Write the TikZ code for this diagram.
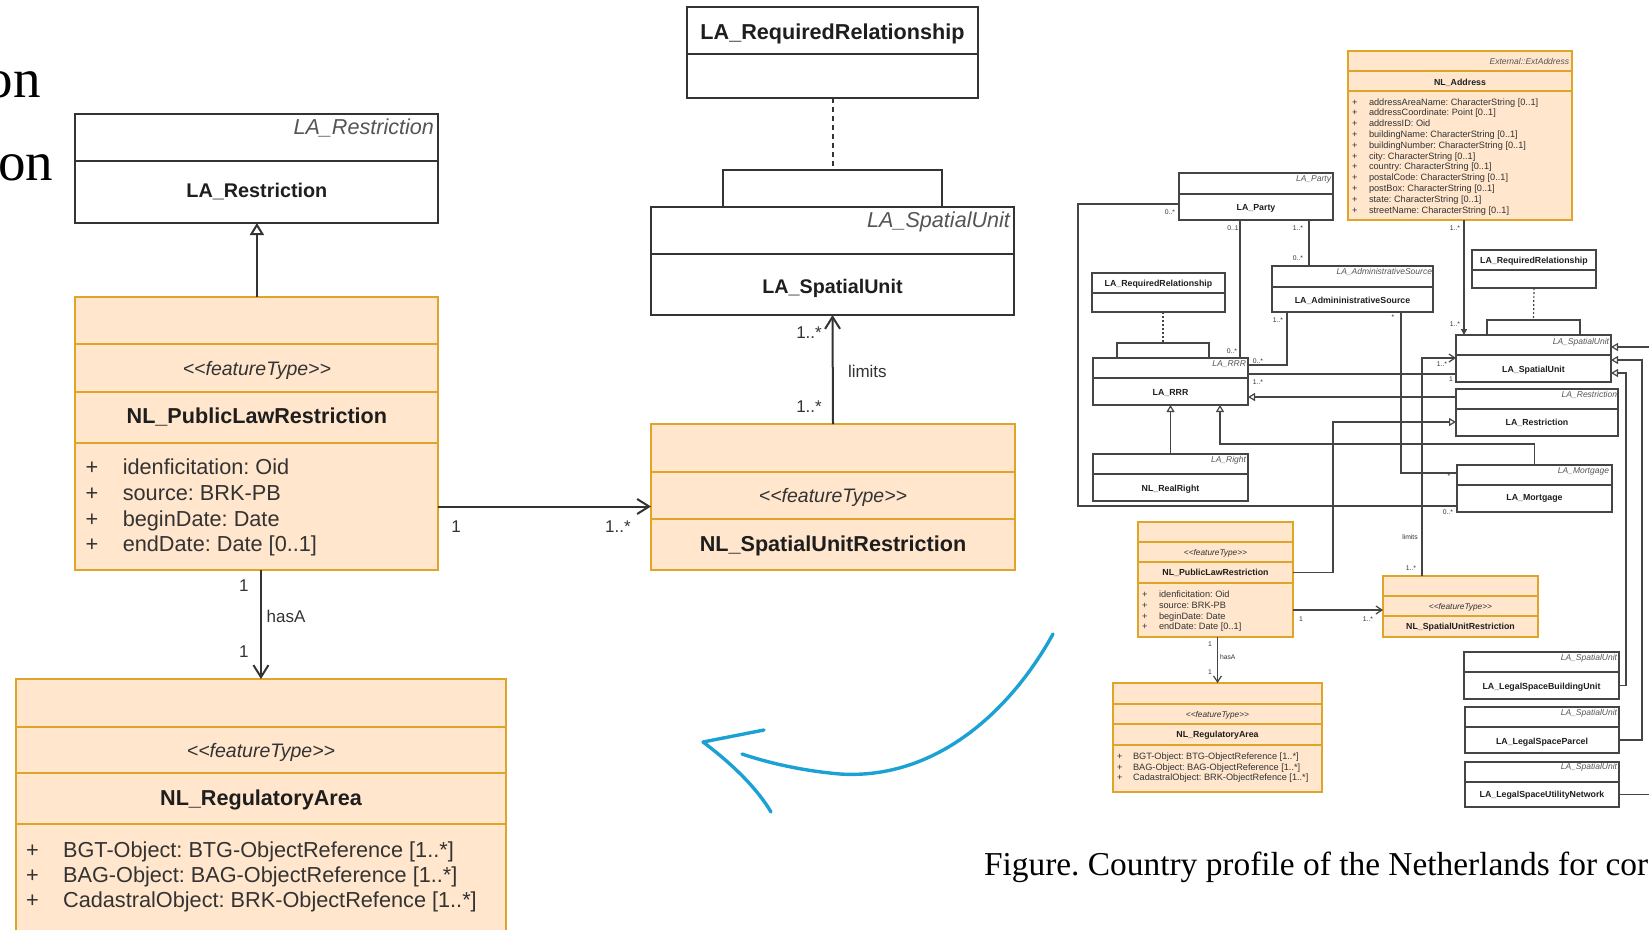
\documentclass[tikz,border=0pt]{standalone}
\usepackage{fontspec}
\setmainfont{Liberation Sans}
\newfontfamily\capserif{Liberation Serif}
\usetikzlibrary{arrows.meta,fit}
\definecolor{orfill}{HTML}{FFE6CC}
\definecolor{orline}{HTML}{DFA52B}
\definecolor{lncol}{HTML}{333333}
\definecolor{slcol}{HTML}{454545}
\definecolor{txcol}{HTML}{1E1E1E}
\definecolor{itcol}{HTML}{555555}
\definecolor{annot}{HTML}{1BA1D3}
\newcommand\pxf[1]{\fontsize{#1}{#1}\selectfont}
\newcommand\ftype{<\kern0pt<featureType>\kern0pt>}
\frenchspacing
\begin{document}
\begin{tikzpicture}[x=1pt,y=-1pt,
  bx/.style={draw=lncol, line width=2pt, fill=white, inner sep=0pt, outer sep=0pt},
  obx/.style={bx, draw=orline, fill=orfill},
  sbx/.style={bx, line width=1.2pt, draw=slcol},
  sobx/.style={obx, line width=1.2pt},
  t/.style={inner sep=0pt, outer sep=0pt, text=txcol},
  bigttl/.style={t, font=\bfseries\pxf{21.6}, anchor=base},
  bigit/.style={t, text=itcol, font=\itshape\pxf{21.6}, anchor=base east},
  bigst/.style={t, text=lncol, font=\itshape\pxf{19.5}, anchor=base},
  bigat/.style={t, text=lncol, font=\pxf{21.7}, anchor=base west},
  biglab/.style={t, text=lncol, font=\pxf{17}},
  sttl/.style={t, font=\bfseries\pxf{8.8}, anchor=base},
  sit/.style={t, text=itcol, font=\itshape\pxf{8.5}, anchor=base east},
  sst/.style={t, text=lncol, font=\itshape\pxf{8.3}, anchor=base},
  sat/.style={t, text=lncol, font=\pxf{9.2}, anchor=base west},
  slab/.style={t, text=lncol, font=\pxf{6.8}},
  conn/.style={draw=lncol, line width=2pt},
  sconn/.style={draw=slcol, line width=1.2pt},
  gen/.style={-{Triangle[open, length=12pt, width=14pt, fill=white]}},
  barb/.style={-{Straight Barb[length=12pt, width=15pt]}},
  sgen/.style={-{Triangle[open, length=7pt, width=8pt, fill=white]}},
  sbarb/.style={-{Straight Barb[length=6pt, width=8pt]}},
  sfill/.style={-{Triangle[length=6pt, width=6pt]}}
]
\path[use as bounding box] (0,0) rectangle (1649,929);
\clip (0,0) rectangle (1649,929);

% ---------------- enlarged classes (left) ----------------
\node[bx, fit={(75.4,114) (438.4,161)}] (restrA) {};
\node[bx, fit={(75.4,161) (438.4,223)}] (restrB) {};
\node[bigit] (restrAt) at (434,134) {LA\_Restriction};
\node[bigttl, font=\bfseries\pxf{19.8}] (restrBt) at (256.9,197) {LA\_Restriction};

\node[obx, fit={(75.4,297) (438.4,344)}] (plrA) {};
\node[obx, fit={(75.4,344) (438.4,392)}] (plrB) {};
\node[obx, fit={(75.4,392) (438.4,443)}] (plrC) {};
\node[obx, fit={(75.4,443) (438.4,570)}] (plrD) {};
\node[bigst] (plrBt) at (256.9,375) {\ftype};
\node[bigttl] (plrCt) at (256.9,423) {NL\_PublicLawRestriction};
\foreach \yy/\tx [count=\i] in {474/idenficitation: Oid, 500/source: BRK-PB, 526/beginDate: Date, 551/endDate: Date [0..1]} {
  \node[bigat] (plrP\i) at (85.6,\yy) {+};
  \node[bigat] (plrT\i) at (122.8,\yy) {\tx};
}

\node[obx, fit={(15.8,679) (506.1,727)}] (raA) {};
\node[obx, fit={(15.8,727) (506.1,773)}] (raB) {};
\node[obx, fit={(15.8,773) (506.1,824)}] (raC) {};
\node[obx, fit={(15.8,824) (506.1,950)}] (raD) {};
\node[bigst] (raBt) at (261,757) {\ftype};
\node[bigttl] (raCt) at (261,805) {NL\_RegulatoryArea};
\foreach \yy/\tx [count=\i] in {857/BGT-Object: BTG-ObjectReference [1..*], 882/BAG-Object: BAG-ObjectReference [1..*], 907/CadastralObject: BRK-ObjectRefence [1..*]} {
  \node[bigat] (raP\i) at (26,\yy) {+};
  \node[bigat] (raT\i) at (63.1,\yy) {\tx};
}

\node[bx, fit={(687,7) (978,54)}] (rrA) {};
\node[bx, fit={(687,54) (978,98)}] (rrB) {};
\node[bigttl] (rrAt) at (832.5,39) {LA\_RequiredRelationship};

\node[bx, fit={(723,170) (942,207)}] (suBr) {};
\node[bx, fit={(651,207) (1014,254)}] (suA) {};
\node[bx, fit={(651,254) (1014,315)}] (suB) {};
\node[bigit] (suAt) at (1010,227) {LA\_SpatialUnit};
\node[bigttl, font=\bfseries\pxf{19.7}] (suBt) at (832.5,293) {LA\_SpatialUnit};

\node[obx, fit={(651,424) (1015,472)}] (surA) {};
\node[obx, fit={(651,472) (1015,519)}] (surB) {};
\node[obx, fit={(651,519) (1015,570)}] (surC) {};
\node[bigst] (surBt) at (833,502) {\ftype};
\node[bigttl] (surCt) at (833,551) {NL\_SpatialUnitRestriction};

% connectors of the enlarged part
\draw[conn, gen] (plrA.north) -- (restrB.south);
\draw[conn, barb] (plrD.east) -- (plrD.east -| surB.west);
\draw[conn, barb] (surA.north) -- (suB.south);
\draw[conn, barb] (raA.north |- plrD.south) -- (raA.north);
\draw[conn, dash pattern=on 5pt off 4pt] (rrB.south) -- (suBr.north);

\node[biglab] (l1) at (809,333) {1..*};
\node[biglab, anchor=west] (l2) at (848,371) {limits};
\node[biglab] (l3) at (809,407) {1..*};
\node[biglab] (l4) at (456,527) {1};
\node[biglab] (l5) at (618,527) {1..*};
\node[biglab] (l6) at (243.8,586) {1};
\node[biglab, anchor=west] (l7) at (266.6,616) {hasA};
\node[biglab] (l8) at (243.8,652) {1};

% ---------------- whole profile (right) ----------------
\node[sobx, fit={(1348,51) (1572,71)}] (addrA) {};
\node[sobx, fit={(1348,71) (1572,91)}] (addrB) {};
\node[sobx, fit={(1348,91) (1572,220)}] (addrC) {};
\node[sit] (addrAt) at (1569,64) {External::ExtAddress};
\node[sttl] (addrBt) at (1460,85) {NL\_Address};
\foreach \tx [count=\i] in {addressAreaName: CharacterString [0..1], addressCoordinate: Point [0..1], addressID: Oid, buildingName: CharacterString [0..1], buildingNumber: CharacterString [0..1], city: CharacterString [0..1], country: CharacterString [0..1], postalCode: CharacterString [0..1], postBox: CharacterString [0..1], state: CharacterString [0..1], streetName: CharacterString [0..1]} {
  \node[sat] (adP\i) at (1352,{105+10.8*(\i-1)}) {+};
  \node[sat] (adT\i) at (1369,{105+10.8*(\i-1)}) {\tx};
}

\node[sbx, fit={(1179,173) (1333,194)}] (partyA) {};
\node[sbx, fit={(1179,194) (1333,220)}] (partyB) {};
\node[sit] (partyAt) at (1331,181) {LA\_Party};
\node[sttl] (partyBt) at (1256,210) {LA\_Party};

\node[sbx, fit={(1272,266) (1433,287)}] (asA) {};
\node[sbx, fit={(1272,287) (1433,312)}] (asB) {};
\node[sit] (asAt) at (1432,274) {LA\_AdministrativeSource};
\node[sttl] (asBt) at (1352.5,303) {LA\_AdmininistrativeSource};

\node[sbx, fit={(1092,273) (1225,293)}] (rr1A) {};
\node[sbx, fit={(1092,293) (1225,312)}] (rr1B) {};
\node[sttl] (rr1At) at (1158.5,286) {LA\_RequiredRelationship};
\node[sbx, fit={(1117,343) (1209,358)}] (br1) {};
\node[sbx, fit={(1093,358) (1248,378)}] (rrrA) {};
\node[sbx, fit={(1093,378) (1248,405)}] (rrrB) {};
\node[sit] (rrrAt) at (1246,366) {LA\_RRR};
\node[sttl] (rrrBt) at (1170.5,395) {LA\_RRR};

\node[sbx, fit={(1093,454) (1248,474)}] (realA) {};
\node[sbx, fit={(1093,474) (1248,501)}] (realB) {};
\node[sit] (realAt) at (1246,462) {LA\_Right};
\node[sttl] (realBt) at (1170.5,491) {NL\_RealRight};

\node[sbx, fit={(1472,250) (1596,270)}] (rr2A) {};
\node[sbx, fit={(1472,270) (1596,288)}] (rr2B) {};
\node[sttl] (rr2At) at (1534,263) {LA\_RequiredRelationship};
\node[sbx, fit={(1487,320) (1580,335)}] (br2) {};
\node[sbx, fit={(1456,335) (1611,355)}] (suRA) {};
\node[sbx, fit={(1456,355) (1611,382)}] (suRB) {};
\node[sit] (suRAt) at (1609,344) {LA\_SpatialUnit};
\node[sttl] (suRBt) at (1533.5,372) {LA\_SpatialUnit};

\node[sbx, fit={(1456,389) (1618,409)}] (reRA) {};
\node[sbx, fit={(1456,409) (1618,436)}] (reRB) {};
\node[sit] (reRAt) at (1617,397) {LA\_Restriction};
\node[sttl] (reRBt) at (1537,425) {LA\_Restriction};

\node[sbx, fit={(1457,465) (1612,485)}] (mortA) {};
\node[sbx, fit={(1457,485) (1612,512)}] (mortB) {};
\node[sit] (mortAt) at (1609,473) {LA\_Mortgage};
\node[sttl] (mortBt) at (1534.5,500) {LA\_Mortgage};

\node[sobx, fit={(1138,522) (1293,542)}] (plrSA) {};
\node[sobx, fit={(1138,542) (1293,562)}] (plrSB) {};
\node[sobx, fit={(1138,562) (1293,583)}] (plrSC) {};
\node[sobx, fit={(1138,583) (1293,637)}] (plrSD) {};
\node[sst] (plrSBt) at (1215.5,555) {\ftype};
\node[sttl] (plrSCt) at (1215.5,575) {NL\_PublicLawRestriction};
\foreach \yy/\tx [count=\i] in {597/idenficitation: Oid, 608/source: BRK-PB, 619/beginDate: Date, 629/endDate: Date [0..1]} {
  \node[sat] (plrSP\i) at (1142,\yy) {+};
  \node[sat] (plrST\i) at (1159,\yy) {\tx};
}

\node[sobx, fit={(1383,576) (1538,596)}] (surSA) {};
\node[sobx, fit={(1383,596) (1538,616)}] (surSB) {};
\node[sobx, fit={(1383,616) (1538,637)}] (surSC) {};
\node[sst] (surSBt) at (1460.5,609) {\ftype};
\node[sttl] (surSCt) at (1460.5,629) {NL\_SpatialUnitRestriction};

\node[sobx, fit={(1113,683) (1322,704)}] (raSA) {};
\node[sobx, fit={(1113,704) (1322,724)}] (raSB) {};
\node[sobx, fit={(1113,724) (1322,745)}] (raSC) {};
\node[sobx, fit={(1113,745) (1322,792)}] (raSD) {};
\node[sst] (raSBt) at (1217.5,717) {\ftype};
\node[sttl] (raSCt) at (1217.5,737) {NL\_RegulatoryArea};
\foreach \yy/\tx [count=\i] in {759/BGT-Object: BTG-ObjectReference [1..*], 770/BAG-Object: BAG-ObjectReference [1..*], 780/CadastralObject: BRK-ObjectRefence [1..*]} {
  \node[sat] (raSP\i) at (1117,\yy) {+};
  \node[sat] (raST\i) at (1133,\yy) {\tx};
}

\node[sbx, fit={(1464,652) (1619,672)}] (buA) {};
\node[sbx, fit={(1464,672) (1619,699)}] (buB) {};
\node[sit] (buAt) at (1617,660) {LA\_SpatialUnit};
\node[sttl] (buBt) at (1541.5,689) {LA\_LegalSpaceBuildingUnit};
\node[sbx, fit={(1465,707) (1619,727)}] (parA) {};
\node[sbx, fit={(1465,727) (1619,753)}] (parB) {};
\node[sit] (parAt) at (1617,715) {LA\_SpatialUnit};
\node[sttl] (parBt) at (1542,744) {LA\_LegalSpaceParcel};
\node[sbx, fit={(1465,762) (1619,782)}] (utA) {};
\node[sbx, fit={(1465,782) (1619,807)}] (utB) {};
\node[sit] (utAt) at (1617,769) {LA\_SpatialUnit};
\node[sttl] (utBt) at (1542,797) {LA\_LegalSpaceUtilityNetwork};

% bend points of the orthogonal connectors
\coordinate (kFrame) at (1078,506);
\coordinate (kParty1) at (1240,220);
\coordinate (kParty2) at (1309,220);
\coordinate (kSrc1) at (1287,365);
\coordinate (kSrc2) at (1401,473);
\coordinate (kAddr) at (1464,220);
\coordinate (kRRR) at (1350,374);
\coordinate (kGenRe) at (1350,397);
\coordinate (kPlr) at (1333,422);
\coordinate (kMort) at (1220,444);
\coordinate (kLim) at (1422,358);
\coordinate (kHor) at (1340,610);
\coordinate (kBu) at (1626,373);
\coordinate (kPar) at (1642,360);
\coordinate (kUt) at (1656,347);

\draw[sconn] ([yshift=3pt]partyB.west) -| (kFrame) -- (kFrame -| mortB.west);
\draw[sconn] (kParty1) -- (kParty1 |- rrrA.north);
\draw[sconn] (kParty2) -- (kParty2 |- asA.north);
\draw[sconn] (kSrc1 |- asB.south) -- (kSrc1) -- (kSrc1 -| rrrA.east);
\draw[sconn] (kSrc2 |- asB.south) -- (kSrc2) -- (kSrc2 -| mortA.west);
\draw[sconn, sfill] (kAddr) -- (kAddr |- suRA.north);
\draw[sconn, dash pattern=on 2pt off 2pt] (rr2B.south) -- (br2.north);
\draw[sconn, dash pattern=on 2pt off 2pt] (br1.north |- rr1B.south) -- (br1.north);
\draw[sconn] (kRRR -| rrrB.east) -- (kRRR -| suRB.west);
\draw[sconn, sgen] (kGenRe -| reRA.west) -- (kGenRe -| rrrB.east);
\draw[sconn, sgen] (plrSC.east) -| (kPlr) -- (kPlr -| reRB.west);
\draw[sconn, sgen] (mortA.north) |- (kMort) -- (kMort |- rrrB.south);
\draw[sconn, sgen] (realA.north) -- (rrrB.south);
\draw[sconn, sbarb] (kLim |- surSA.north) -- (kLim) -- (kLim -| suRB.west);
\draw[sconn, sbarb] (kHor -| plrSD.east) -- (kHor -| surSB.west);
\draw[sconn, sbarb] (raSA.north |- plrSD.south) -- (raSA.north);
\draw[sconn, sgen] (buB.east) -| (kBu) -- (kBu -| suRB.east);
\draw[sconn, sgen] (parB.east) -| (kPar) -- (kPar -| suRB.east);
\draw[sconn, sgen] (utB.east) -| (kUt) -- (kUt -| suRA.east);

\foreach \p/\tx [count=\i] in {{1170,212}/0..*, {1233,228}/0..1, {1298,228}/1..*, {1298,258}/0..*, {1232,351}/0..*, {1278,320}/1..*, {1258,361}/0..*, {1393,317}/*, {1455,228}/1..*, {1455,324}/1..*, {1258,382}/1..*, {1442,364}/1..*, {1451,379}/1, {1449,476}/*, {1448,512}/0..*, {1410,537}/limits, {1411,568}/1..*, {1301,619}/1, {1368,619}/1..*, {1210,644}/1, {1210,672}/1} {
  \node[slab] (sl\i) at (\p) {\tx};
}
\node[slab, anchor=west] (slHas) at (1220,657) {hasA};

% ---------------- hand-drawn pointer ----------------
\draw[annot, line width=3.4pt, line cap=round]
  (1053,634) .. controls (1010,712) and (935,780) .. (840,774)
  .. controls (805,771) and (772,764) .. (742,754);
\draw[annot, line width=3.4pt, line cap=round, line join=round]
  (764,730) -- (703,742) .. controls (735,766) and (758,790) .. (771,812);

% ---------------- surrounding page text ----------------
\node[t, text=black, font=\capserif\pxf{55}, anchor=base east] (cutA) at (41,97) {on};
\node[t, text=black, font=\capserif\pxf{55}, anchor=base east] (cutB) at (53,180) {ion};
\node[t, text=black, font=\capserif\pxf{33.4}, anchor=base west] (caption) at (984,875) {Figure. Country profile of the Netherlands for cor};
\end{tikzpicture}
\end{document}
